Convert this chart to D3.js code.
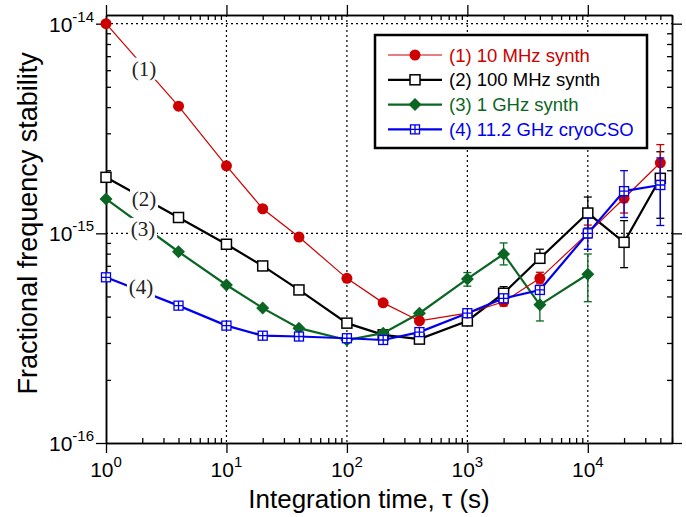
<!DOCTYPE html>
<html>
<head>
<meta charset="utf-8">
<script src="https://cdn.jsdelivr.net/npm/d3@7"></script>
<style>
  body { margin: 0; background: #fff; }
  svg { display: block; font-family: "Liberation Sans", Arial, sans-serif; }
</style>
</head>
<body>
<div id="chart"></div>
<script>
// Integration times (s)
const tau = [1, 4, 10, 20, 40, 100, 200, 400, 1000, 2000, 4000, 10000, 20000, 40000];

// Allan deviation per series (null = no point)
const synth10M = [1.0e-14, 4.04e-15, 2.1e-15, 1.31e-15, 9.6e-16, 6.1e-16, 4.66e-16, 3.82e-16, 4.16e-16, 4.72e-16, 6.1e-16, 1.0e-15, 1.47e-15, 2.17e-15];
const synth100M = [1.85e-15, 1.19e-15, 8.87e-16, 6.99e-16, 5.37e-16, 3.73e-16, 3.28e-16, 3.13e-16, 3.82e-16, 5.18e-16, 7.6e-16, 1.25e-15, 9.06e-16, 1.83e-15];
const synth1G = [1.46e-15, 8.17e-16, 5.67e-16, 4.4e-16, 3.53e-16, 3.1e-16, 3.34e-16, 4.16e-16, 6.06e-16, 7.97e-16, 4.56e-16, 6.38e-16, null, null];
const cryoCSO = [6.17e-16, 4.52e-16, 3.63e-16, 3.25e-16, 3.22e-16, 3.16e-16, 3.1e-16, 3.38e-16, 4.16e-16, 4.9e-16, 5.37e-16, 1.0e-15, 1.59e-15, 1.7e-15];

// Error bars: [tau, low, high]
const synth10MErr = [[2000, 4.5e-16, 4.95e-16], [4000, 5.74e-16, 6.52e-16], [10000, 9.5e-16, 1.095e-15], [20000, 1.25e-15, 1.66e-15], [40000, 1.79e-15, 2.65e-15]];
const synth100MErr = [[2000, 4.8e-16, 5.57e-16], [4000, 7.2e-16, 8.4e-16], [10000, 1.06e-15, 1.49e-15], [20000, 6.86e-16, 1.15e-15], [40000, 1.18e-15, 2.45e-15]];
const synth1GErr = [[1000, 5.6e-16, 6.5e-16], [2000, 7.07e-16, 9.0e-16], [4000, 3.82e-16, 5.44e-16], [10000, 4.72e-16, 7.97e-16]];
const cryoCSOErr = [[10000, 8.39e-16, 1.18e-15], [20000, 1.19e-15, 1.99e-15], [40000, 1.09e-15, 2.29e-15]];

const seriesNames = ['(1) 10 MHz synth', '(2) 100 MHz synth', '(3) 1 GHz synth', '(4) 11.2 GHz cryoCSO'];

// Curve labels inside the plot: [text, tau, value]
const curveLabels = [['(1)', 2.07, 6.1e-15], ['(2)', 2.07, 1.46e-15], ['(3)', 2.03, 1.05e-15], ['(4)', 1.95, 5.55e-16]];

const xMajor = [1, 10, 100, 1000, 10000];
const yMajor = [-16, -15, -14];

const W = 686, H = 517;
const margin = { top: 15, right: 14, bottom: 74, left: 106 };
const width = W - margin.left - margin.right;
const height = H - margin.top - margin.bottom;

const svg = d3.select('#chart').append('svg')
    .attr('width', W)
    .attr('height', H);

const g = svg.append('g')
    .attr('transform', `translate(${margin.left},${margin.top})`);

const x = d3.scaleLog().domain([1, 5e4]).range([0, width]);
const y = d3.scaleLog().domain([1e-16, 1.1e-14]).range([height, 0]);

// minor ticks
const xMinor = [];
for (let d = 1; d <= 10000; d *= 10) {
    for (let m = 2; m <= 9; m++) if (d * m <= 5e4) xMinor.push(d * m);
}
const yMinor = [];
for (let e = -16; e <= -15; e++) {
    for (let m = 2; m <= 9; m++) yMinor.push(m * Math.pow(10, e));
}

// dotted grid at decades
g.append('g').selectAll('line.vg')
    .data(xMajor.slice(1))
    .enter().append('line')
    .attr('x1', d => x(d)).attr('x2', d => x(d))
    .attr('y1', 0).attr('y2', height)
    .attr('stroke', '#000').attr('stroke-width', 1.2)
    .attr('stroke-dasharray', '2,3');

g.append('g').selectAll('line.hg')
    .data([1e-15, 1e-14])
    .enter().append('line')
    .attr('x1', 0).attr('x2', width)
    .attr('y1', d => y(d)).attr('y2', d => y(d))
    .attr('stroke', '#000').attr('stroke-width', 1.2)
    .attr('stroke-dasharray', '2,3');

// axes: major ticks outward, minor ticks inward
function styleAxis(sel) {
    sel.selectAll('text').remove();
    sel.selectAll('line').attr('stroke', '#000').attr('stroke-width', 1.3);
    sel.select('.domain').attr('stroke', '#000').attr('stroke-width', 1.5);
}
const yMajorVals = yMajor.map(e => Math.pow(10, e));

g.append('g').attr('transform', `translate(0,${height})`)
    .call(d3.axisBottom(x).tickValues(xMajor).tickSize(10).tickSizeOuter(0)).call(styleAxis);
g.append('g').attr('transform', `translate(0,${height})`)
    .call(d3.axisBottom(x).tickValues(xMinor).tickSize(-5).tickSizeOuter(0)).call(styleAxis);
g.append('g')
    .call(d3.axisTop(x).tickValues(xMajor).tickSize(10).tickSizeOuter(0)).call(styleAxis);
g.append('g')
    .call(d3.axisTop(x).tickValues(xMinor).tickSize(-5).tickSizeOuter(0)).call(styleAxis);
g.append('g')
    .call(d3.axisLeft(y).tickValues(yMajorVals).tickSize(10).tickSizeOuter(0)).call(styleAxis);
g.append('g')
    .call(d3.axisLeft(y).tickValues(yMinor).tickSize(-5).tickSizeOuter(0)).call(styleAxis);
g.append('g').attr('transform', `translate(${width},0)`)
    .call(d3.axisRight(y).tickValues(yMajorVals).tickSize(10).tickSizeOuter(0)).call(styleAxis);
g.append('g').attr('transform', `translate(${width},0)`)
    .call(d3.axisRight(y).tickValues(yMinor).tickSize(-5).tickSizeOuter(0)).call(styleAxis);

// tick labels with superscripts
const xl = g.append('g').selectAll('text')
    .data(xMajor)
    .enter().append('text')
    .attr('x', d => x(d))
    .attr('y', height + 34)
    .attr('text-anchor', 'middle')
    .style('font-size', '21px');
xl.append('tspan').text('10');
xl.append('tspan').attr('dy', -10).style('font-size', '15px').text(d => Math.round(Math.log10(d)));

const yl = g.append('g').selectAll('text')
    .data(yMajor)
    .enter().append('text')
    .attr('x', -12)
    .attr('y', d => y(Math.pow(10, d)) + 8)
    .attr('text-anchor', 'end')
    .style('font-size', '21px');
yl.append('tspan').text('10');
yl.append('tspan').attr('dy', -10).style('font-size', '15px').text(d => d);

// axis titles
g.append('text')
    .attr('x', width / 2 - 20)
    .attr('y', height + 65)
    .attr('text-anchor', 'middle')
    .style('font-size', '26px')
    .text('Integration time, \u03c4 (s)');

g.append('text')
    .attr('transform', 'rotate(-90)')
    .attr('x', -(y(1e-15) - 10))
    .attr('y', -69)
    .attr('text-anchor', 'middle')
    .style('font-size', '27px')
    .text('Fractional frequency stability');

// series definitions
const series = [
    { name: seriesNames[1], values: synth100M, err: synth100MErr, color: '#000000', width: 2.2, marker: 'square' },
    { name: seriesNames[2], values: synth1G, err: synth1GErr, color: '#0b6623', width: 2.2, marker: 'diamond' },
    { name: seriesNames[0], values: synth10M, err: synth10MErr, color: '#cc0000', width: 1.2, marker: 'circle' },
    { name: seriesNames[3], values: cryoCSO, err: cryoCSOErr, color: '#0000ee', width: 2.2, marker: 'plusSquare' }
];

function drawMarker(sel, type, color) {
    if (type === 'circle') {
        sel.append('circle').attr('r', 5.5).attr('fill', color);
    } else if (type === 'square') {
        sel.append('rect').attr('x', -5).attr('y', -5).attr('width', 10).attr('height', 10)
            .attr('fill', '#fff').attr('stroke', color).attr('stroke-width', 1.5);
    } else if (type === 'diamond') {
        sel.append('path').attr('d', 'M0,-6.5L6.5,0L0,6.5L-6.5,0Z').attr('fill', color);
    } else {
        sel.append('rect').attr('x', -4.5).attr('y', -4.5).attr('width', 9).attr('height', 9)
            .attr('fill', '#fff').attr('stroke', color).attr('stroke-width', 1.3);
        sel.append('path').attr('d', 'M-4.5,0H4.5M0,-4.5V4.5')
            .attr('stroke', color).attr('stroke-width', 1.3);
    }
}

const line = d3.line()
    .defined(d => d.v != null)
    .x(d => x(d.t))
    .y(d => y(d.v));

series.forEach(s => {
    const pts = tau.map((t, i) => ({ t: t, v: s.values[i] })).filter(d => d.v != null);
    const sg = g.append('g');

    // error bars
    s.err.forEach(e => {
        const ex = x(e[0]);
        sg.append('line').attr('x1', ex).attr('x2', ex).attr('y1', y(e[1])).attr('y2', y(e[2]))
            .attr('stroke', s.color).attr('stroke-width', 1.3);
        [e[1], e[2]].forEach(v => {
            sg.append('line').attr('x1', ex - 4).attr('x2', ex + 4).attr('y1', y(v)).attr('y2', y(v))
                .attr('stroke', s.color).attr('stroke-width', 1.3);
        });
    });

    sg.append('path')
        .datum(pts)
        .attr('fill', 'none')
        .attr('stroke', s.color)
        .attr('stroke-width', s.width)
        .attr('d', line);

    sg.selectAll('g.pt')
        .data(pts)
        .enter().append('g')
        .attr('transform', d => `translate(${x(d.t)},${y(d.v)})`)
        .each(function () { drawMarker(d3.select(this), s.marker, s.color); });
});

// curve labels with white backing
curveLabels.forEach(c => {
    const lg = g.append('g').attr('transform', `translate(${x(c[1])},${y(c[2])})`);
    lg.append('rect').attr('x', -14).attr('y', -11).attr('width', 28).attr('height', 22).attr('fill', '#fff');
    lg.append('text')
        .attr('text-anchor', 'middle')
        .attr('y', 7)
        .style('font-family', '"Liberation Serif", "Times New Roman", serif')
        .style('font-size', '21px')
        .attr('fill', '#222')
        .text(c[0]);
});

// legend
const legend = svg.append('g').attr('transform', 'translate(375,35)');
legend.append('rect')
    .attr('width', 272).attr('height', 113)
    .attr('fill', '#fff').attr('stroke', '#000').attr('stroke-width', 2.5);

const legendOrder = [series[2], series[0], series[1], series[3]];
legendOrder.forEach((s, i) => {
    const row = legend.append('g').attr('transform', `translate(0,${20 + i * 24.8})`);
    row.append('line').attr('x1', 13).attr('x2', 67).attr('y1', 0).attr('y2', 0)
        .attr('stroke', s.color).attr('stroke-width', s.width);
    drawMarker(row.append('g').attr('transform', 'translate(40,0)'), s.marker, s.color);
    row.append('text')
        .attr('x', 74).attr('y', 6.5)
        .style('font-size', '18.5px')
        .attr('fill', s.color)
        .text(s.name);
});
</script>
</body>
</html>
